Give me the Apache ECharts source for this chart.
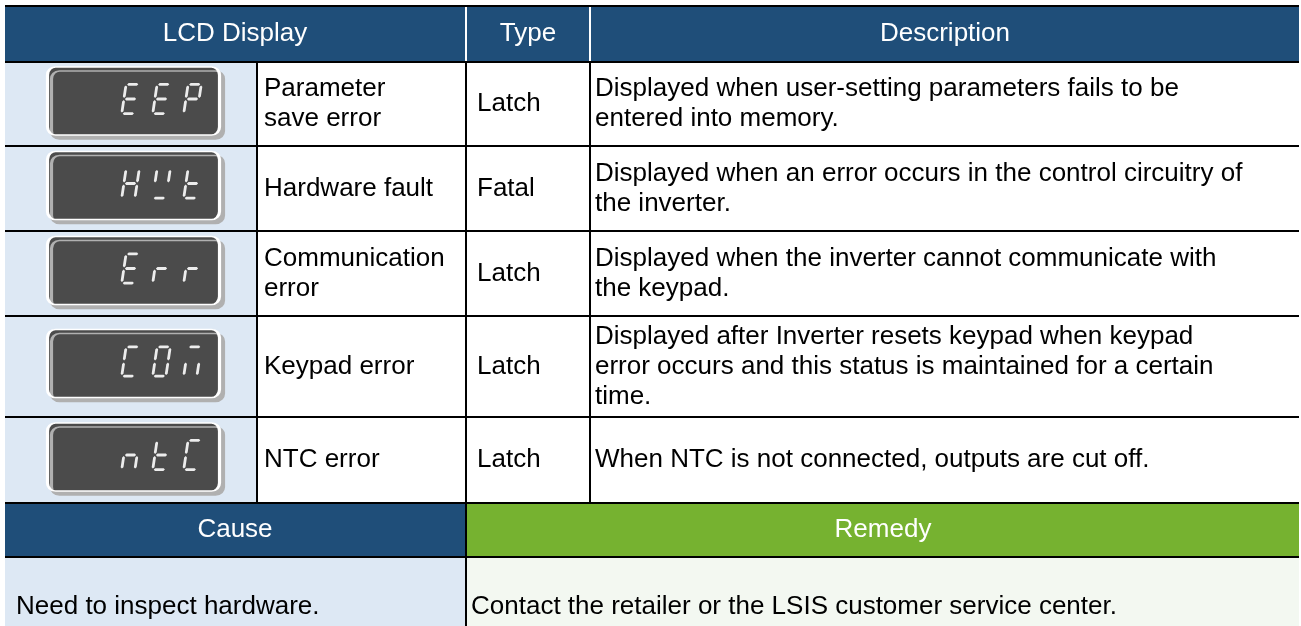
<!DOCTYPE html>
<html>
<head>
<meta charset="utf-8">
<style>
html,body{margin:0;padding:0;background:#ffffff;}
#chart{width:1301px;height:626px;}
</style>
<script src="https://cdn.jsdelivr.net/npm/echarts@6/dist/echarts.min.js"></script>
</head>
<body>
<div id="chart"></div>
<script>
// ================= DATA =================
const headerTitles = ['LCD Display', 'Type', 'Description'];
const lcdCodes = ['EEP', 'HWt', 'Err', 'COM', 'ntC'];
const faultNames = ['Parameter\nsave error', 'Hardware fault', 'Communication\nerror', 'Keypad error', 'NTC error'];
const faultTypes = ['Latch', 'Fatal', 'Latch', 'Latch', 'Latch'];
const descriptions = [
  'Displayed when user-setting parameters fails to be\nentered into memory.',
  'Displayed when an error occurs in the control circuitry of\nthe inverter.',
  'Displayed when the inverter cannot communicate with\nthe keypad.',
  'Displayed after Inverter resets keypad when keypad\nerror occurs and this status is maintained for a certain\ntime.',
  'When NTC is not connected, outputs are cut off.'
];
const footerTitles = ['Cause', 'Remedy'];
const footerTexts = ['Need to inspect hardware.', 'Contact the retailer or the LSIS customer service center.'];
// seven-segment glyphs: which segments (a-g) are lit for each character
const segmentFont = { E: 'adefg', P: 'abefg', H: 'bcefg', W: 'bdf', t: 'defg', r: 'eg', C: 'adef', O: 'abcdef', M: 'ace', n: 'ceg' };

// ================= LAYOUT / STYLE =================
const LINE = 2;
const colSizes = [251, LINE, 207, LINE, 122, LINE, 708];
const headerH = 54, bodyHeights = [82, 83, 83, 99, 84], footHeadH = 52, footBodyH = 98;
const rowSizes = [LINE, headerH, LINE];
bodyHeights.forEach(h => { rowSizes.push(h, LINE); });
rowSizes.push(footHeadH, LINE, footBodyH);
const bodyRow = i => 3 + 2 * i;
const footHeadRow = 3 + 2 * bodyHeights.length;
const footBodyRow = footHeadRow + 2;
const tableH = rowSizes.reduce((a, b) => a + b, 0);
const tableW = colSizes.reduce((a, b) => a + b, 0);

const BLUE = '#1f4e79', GREEN = '#76b230', LIGHT_BLUE = '#dde8f4', LIGHT_GREEN = '#f3f8f1', INK = '#000000', WHITE = '#ffffff';
const FONT = '"Liberation Sans", Arial, Helvetica, sans-serif';

const headLabel = { color: WHITE, fontSize: 26, fontFamily: FONT };
const leftLabel = d => ({ position: 'insideLeft', align: 'left', distance: d, color: INK, fontSize: 26, lineHeight: 30, fontFamily: FONT, overflow: 'none' });

// ================= TABLE CELLS =================
const cells = [];
function cell(x, y, fill, value, label) {
  const item = { coord: [x, y], itemStyle: { color: fill, borderWidth: 0 } };
  if (Array.isArray(x) || Array.isArray(y)) item.mergeCells = true;
  if (value != null) { item.value = value; item.label = label; }
  cells.push(item);
}
const fullWidth = [0, colSizes.length - 1];
// top rule + header
cell(fullWidth, 0, INK);
cell([0, 2], 1, BLUE, headerTitles[0], headLabel);
cell(3, 1, WHITE);
cell(4, 1, BLUE, headerTitles[1], headLabel);
cell(5, 1, WHITE);
cell(6, 1, BLUE, headerTitles[2], headLabel);
cell(fullWidth, 2, INK);
// body rows
lcdCodes.forEach((code, i) => {
  const y = bodyRow(i);
  cell(0, y, LIGHT_BLUE);
  cell(1, y, INK);
  cell(2, y, WHITE, faultNames[i], leftLabel(3));
  cell(3, y, INK);
  cell(4, y, WHITE, faultTypes[i], leftLabel(7));
  cell(5, y, INK);
  cell(6, y, WHITE, descriptions[i], leftLabel(1));
  cell(fullWidth, y + 1, INK);
});
// cause / remedy
cell([0, 2], footHeadRow, BLUE, footerTitles[0], headLabel);
cell(3, footHeadRow, INK);
cell([4, 6], footHeadRow, GREEN, footerTitles[1], headLabel);
cell(fullWidth, footHeadRow + 1, INK);
cell([0, 2], footBodyRow, LIGHT_BLUE, footerTexts[0], leftLabel(8));
cell(3, footBodyRow, INK);
cell([4, 6], footBodyRow, LIGHT_GREEN, footerTexts[1], leftLabel(1));

// ================= LCD GLYPHS (seven segment) =================
const SEG_T = 2.8, CH_W = 16, CH_H = 32, PITCH = 31, SLANT = 0.15, GAP = 1;
const GLYPH_W = (lcdCodes[0].length - 1) * PITCH + CH_W + CH_H * SLANT;
function segmentPoints(s) {
  const h = SEG_T / 2, L = h, R = CH_W - h, T = h, M = CH_H / 2, B = CH_H - h;
  const hor = (yc, x1, x2) => [[x1, yc], [x1 + h, yc - h], [x2 - h, yc - h], [x2, yc], [x2 - h, yc + h], [x1 + h, yc + h]];
  const ver = (xc, y1, y2) => [[xc, y1], [xc + h, y1 + h], [xc + h, y2 - h], [xc, y2], [xc - h, y2 - h], [xc - h, y1 + h]];
  switch (s) {
    case 'a': return hor(T, L + GAP, R - GAP);
    case 'g': return hor(M, L + GAP, R - GAP);
    case 'd': return hor(B, L + GAP, R - GAP);
    case 'f': return ver(L, T + GAP, M - GAP);
    case 'b': return ver(R, T + GAP, M - GAP);
    case 'e': return ver(L, M + GAP, B - GAP);
    case 'c': return ver(R, M + GAP, B - GAP);
  }
  return [];
}
function glyphPath(code) {
  const f = v => v.toFixed(2);
  let d = 'M0 0L0.01 0L0 0.01Z';
  d += 'M' + f(GLYPH_W - 0.01) + ' ' + f(CH_H) + 'L' + f(GLYPH_W) + ' ' + f(CH_H) + 'L' + f(GLYPH_W) + ' ' + f(CH_H - 0.01) + 'Z';
  code.split('').forEach((ch, k) => {
    const ox = k * PITCH;
    (segmentFont[ch] || '').split('').forEach(s => {
      const pts = segmentPoints(s).map(([x, y]) => [ox + x + (CH_H - y) * SLANT, y]);
      d += 'M' + pts.map(p => f(p[0]) + ' ' + f(p[1])).join('L') + 'Z';
    });
  });
  return 'path://' + d;
}
const LCD_BOX = 'path://M8 0H164A8 8 0 0 1 172 8V60A8 8 0 0 1 164 68H8A8 8 0 0 1 0 60V8A8 8 0 0 1 8 0Z';

const option = {
  animation: false,
  backgroundColor: WHITE,
  matrix: {
    left: 5, top: 5, width: tableW, height: tableH,
    x: { show: false, data: colSizes.map((s, i) => ({ value: String(i), size: s })) },
    y: { show: false, data: rowSizes.map((s, i) => ({ value: String(i), size: s })) },
    backgroundStyle: { color: 'transparent', borderWidth: 0 },
    body: {
      itemStyle: { color: WHITE, borderWidth: 0 },
      label: { color: INK, fontSize: 26, fontFamily: FONT },
      data: cells
    }
  },
  series: [
    {
      type: 'scatter', coordinateSystem: 'matrix', silent: true, z: 3,
      symbol: LCD_BOX, symbolSize: [172, 68], symbolOffset: [3, -3],
      itemStyle: { color: '#4b4b4b', borderColor: WHITE, borderWidth: 2, shadowColor: '#b0b0b0', shadowOffsetX: 4, shadowOffsetY: 4, shadowBlur: 0, opacity: 1 },
      emphasis: { disabled: true },
      data: lcdCodes.map((c, i) => [0, bodyRow(i)])
    },
    {
      type: 'scatter', coordinateSystem: 'matrix', silent: true, z: 4,
      symbolSize: [GLYPH_W, CH_H], symbolOffset: [31, -5],
      itemStyle: { color: '#ececec', opacity: 1 },
      emphasis: { disabled: true },
      data: lcdCodes.map((c, i) => ({ value: [0, bodyRow(i)], symbol: glyphPath(c) }))
    }
  ]
};
const chart = echarts.init(document.getElementById('chart'), null, { renderer: 'canvas' });
chart.setOption(option);
</script>
</body>
</html>
